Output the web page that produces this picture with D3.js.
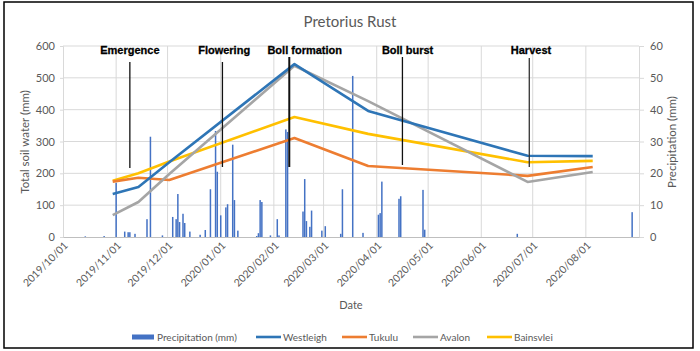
<!DOCTYPE html>
<html>
<head>
<meta charset="utf-8">
<script src="https://cdn.jsdelivr.net/npm/d3@7"></script>
<style>
  body { margin: 0; background: #fff; }
  svg text { font-family: Lato, "Open Sans", sans-serif; fill: #595959; }
</style>
</head>
<body>
<svg id="chart" width="700" height="351"></svg>
<script>
// soil water readings (mm)
var readDates = ["2019-10-30", "2019-11-14", "2019-12-02", "2020-02-13", "2020-03-27", "2020-06-28", "2020-08-05"];
var westleigh = [135, 157, 235, 543, 396, 255, 254];
var tukulu    = [174, 186, 179, 311, 223, 192, 220];
var avalon    = [69, 110, 198, 538, 427, 173, 204];
var bainsvlei = [177, 200, 237, 377, 324, 235, 239];

// daily precipitation (mm), only days with rain
var rainDates = ["2019-10-14", "2019-10-25", "2019-11-01", "2019-11-06", "2019-11-08", "2019-11-09", "2019-11-12",
  "2019-11-19", "2019-11-21", "2019-11-28", "2019-12-04", "2019-12-06", "2019-12-07", "2019-12-08", "2019-12-10",
  "2019-12-11", "2019-12-14", "2019-12-20", "2019-12-23", "2019-12-26", "2019-12-29", "2019-12-30", "2020-01-01",
  "2020-01-04", "2020-01-05", "2020-01-08", "2020-01-09", "2020-01-11", "2020-01-22", "2020-01-23", "2020-01-24",
  "2020-01-25", "2020-01-30", "2020-02-03", "2020-02-04", "2020-02-08", "2020-02-09", "2020-02-18", "2020-02-19",
  "2020-02-20", "2020-02-22", "2020-02-23", "2020-02-29", "2020-03-02", "2020-03-11", "2020-03-12", "2020-03-18",
  "2020-03-24", "2020-04-02", "2020-04-03", "2020-04-04", "2020-04-14", "2020-04-15", "2020-04-28", "2020-04-29",
  "2020-06-22", "2020-08-28"];
var rain = [0.2, 0.3, 17, 1.7, 1.5, 1.5, 1,
  5.6, 31.5, 0.5, 6.3, 5.6, 13.5, 4.7, 7.3,
  4.4, 1.7, 0.7, 2.2, 15, 33.3, 20.5, 6.8,
  9.3, 10.3, 29, 11.6, 2, 0.3, 1.2, 11.6,
  11, 0.5, 5.6, 0.5, 33.8, 33, 8, 18.2,
  5, 3.2, 8.3, 2, 3.4, 1, 15, 50.6,
  1.3, 7, 7.5, 17.4, 12, 12.8, 14.8, 2.3,
  1, 7.8];

// growth stages
var stages = ["Emergence", "Flowering", "Boll formation", "Boll burst", "Harvest"];
var stageDates = ["2019-11-09", "2020-01-02", "2020-02-10", "2020-04-16", "2020-06-29"];
var stageLabelDates = ["2019-11-09", "2020-01-03", "2020-02-19", "2020-04-19", "2020-06-30"];

var leftTicks = [0, 100, 200, 300, 400, 500, 600];
var rightTicks = [0, 10, 20, 30, 40, 50, 60];

var parse = d3.timeParse("%Y-%m-%d");
var svg = d3.select("#chart");

var plot = {left: 63, right: 639, top: 46, bottom: 237};

var x = d3.scaleTime()
  .domain([parse("2019-10-01"), parse("2020-09-01")])
  .range([plot.left, plot.right]);
var y = d3.scaleLinear().domain([0, 600]).range([plot.bottom, plot.top]);
var y2 = d3.scaleLinear().domain([0, 60]).range([plot.bottom, plot.top]);

var months = d3.timeMonth.range(parse("2019-10-01"), parse("2020-08-02"));

// frame
svg.append("rect")
  .attr("x", 4).attr("y", 2).attr("width", 689).attr("height", 346)
  .attr("fill", "none").attr("stroke", "#000").attr("stroke-width", 1.5);

// title
svg.append("text")
  .attr("x", 350).attr("y", 27)
  .attr("text-anchor", "middle")
  .style("font-size", "15px")
  .text("Pretorius Rust");

// gridlines
var grid = svg.append("g");
grid.selectAll(".h").data(leftTicks.slice(1)).enter().append("line")
  .attr("x1", plot.left).attr("x2", plot.right)
  .attr("y1", function(d) { return y(d); }).attr("y2", function(d) { return y(d); })
  .attr("stroke", "#d9d9d9");
grid.selectAll(".v").data(months.slice(1)).enter().append("line")
  .attr("x1", function(d) { return x(d); }).attr("x2", function(d) { return x(d); })
  .attr("y1", plot.top).attr("y2", plot.bottom)
  .attr("stroke", "#d9d9d9");

// left axis
var leftAxis = svg.append("g")
  .attr("transform", "translate(" + plot.left + ",0)")
  .call(d3.axisLeft(y).tickValues(leftTicks).tickSize(3).tickPadding(5));
leftAxis.select(".domain").attr("stroke", "#d9d9d9");
leftAxis.selectAll(".tick line").attr("stroke", "#d9d9d9");
leftAxis.selectAll("text").style("font-size", "11px").style("fill", "#595959");

// right axis
var rightAxis = svg.append("g")
  .attr("transform", "translate(" + plot.right + ",0)")
  .call(d3.axisRight(y2).tickValues(rightTicks).tickSize(5).tickPadding(6));
rightAxis.select(".domain").attr("stroke", "#d9d9d9");
rightAxis.selectAll(".tick line").attr("stroke", "#d9d9d9");
rightAxis.selectAll("text").style("font-size", "11px").style("fill", "#595959");

// bottom axis
var bottomAxis = svg.append("g")
  .attr("transform", "translate(0," + plot.bottom + ")")
  .call(d3.axisBottom(x).tickValues(months).tickSize(0).tickFormat(d3.timeFormat("%Y/%m/%d")));
bottomAxis.select(".domain").attr("stroke", "#bfbfbf");
bottomAxis.selectAll("text")
  .style("font-size", "10.5px")
  .style("fill", "#595959")
  .attr("text-anchor", "end")
  .attr("dy", null)
  .attr("transform", "translate(3,7) rotate(-45)");

// axis titles
svg.append("text")
  .attr("transform", "translate(29,142) rotate(-90)")
  .attr("text-anchor", "middle")
  .style("font-size", "11.5px")
  .text("Total soil water (mm)");
svg.append("text")
  .attr("transform", "translate(676,142) rotate(-90)")
  .attr("text-anchor", "middle")
  .style("font-size", "11.5px")
  .text("Precipitation (mm)");
svg.append("text")
  .attr("x", 351).attr("y", 309)
  .attr("text-anchor", "middle")
  .style("font-size", "11px")
  .text("Date");

// precipitation bars
var rainData = rainDates.map(function(d, i) { return {date: parse(d), value: rain[i]}; });
svg.append("g").selectAll("rect").data(rainData).enter().append("rect")
  .attr("x", function(d) { return x(d.date) - 0.75; })
  .attr("width", 1.5)
  .attr("y", function(d) { return y2(d.value); })
  .attr("height", function(d) { return plot.bottom - y2(d.value); })
  .attr("fill", "#4472c4");

// soil water lines
var series = [
  {name: "Westleigh", values: westleigh, color: "#2e75b6"},
  {name: "Tukulu", values: tukulu, color: "#ed7d31"},
  {name: "Avalon", values: avalon, color: "#a5a5a5"},
  {name: "Bainsvlei", values: bainsvlei, color: "#ffc000"}
];
var line = d3.line()
  .x(function(d) { return x(d.date); })
  .y(function(d) { return y(d.value); });
var drawOrder = [3, 1, 2, 0];
drawOrder.forEach(function(k) {
  var s = series[k];
  var pts = readDates.map(function(d, i) { return {date: parse(d), value: s.values[i]}; });
  svg.append("path")
    .datum(pts)
    .attr("d", line)
    .attr("fill", "none")
    .attr("stroke", s.color)
    .attr("stroke-width", 2.6)
    .attr("stroke-linejoin", "round");
});

// growth stage markers
var stageTop = [62, 62, 57, 57, 58];
var stageBottom = [168, 167, 167, 165, 167];
var stageWidth = [1.3, 1.3, 2, 1.3, 1.3];
var stageG = svg.append("g");
stages.forEach(function(name, i) {
  var sx = x(parse(stageDates[i]));
  stageG.append("line")
    .attr("x1", sx).attr("x2", sx)
    .attr("y1", stageTop[i]).attr("y2", stageBottom[i])
    .attr("stroke", i == 4 ? "#333" : "#111")
    .attr("stroke-width", stageWidth[i]);
  stageG.append("text")
    .attr("x", x(parse(stageLabelDates[i]))).attr("y", 54)
    .attr("text-anchor", "middle")
    .style("font-family", "'Liberation Sans', Arial, sans-serif")
    .style("font-weight", "bold")
    .style("font-size", "11px")
    .style("fill", "#000")
    .style("stroke", "#000")
    .style("stroke-width", 0.3)
    .text(name);
});

// legend
var legend = svg.append("g").attr("transform", "translate(0,337)");
legend.append("rect")
  .attr("x", 132).attr("y", -2.5).attr("width", 22).attr("height", 5)
  .attr("fill", "#4472c4");
legend.append("text")
  .attr("x", 157).attr("y", 3.5)
  .style("font-size", "10px")
  .text("Precipitation (mm)");
var legendX = [256, 342, 413, 487];
series.forEach(function(s, i) {
  legend.append("line")
    .attr("x1", legendX[i]).attr("x2", legendX[i] + 25)
    .attr("y1", 0).attr("y2", 0)
    .attr("stroke", s.color).attr("stroke-width", 2.6);
  legend.append("text")
    .attr("x", legendX[i] + 27).attr("y", 3.5)
    .style("font-size", "10px")
    .text(s.name);
});
</script>
</body>
</html>
